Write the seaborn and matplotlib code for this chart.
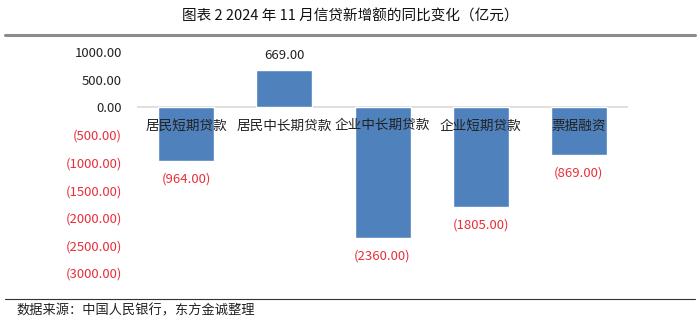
import matplotlib
matplotlib.use("Agg")
import matplotlib.pyplot as plt
import seaborn as sns
import pandas as pd
from matplotlib.lines import Line2D

categories = ["居民短期贷款", "居民中长期贷款", "企业中长期贷款", "企业短期贷款", "票据融资"]
values = [-964.0, 669.0, -2360.0, -1805.0, -869.0]
yticks = [1000, 500, 0, -500, -1000, -1500, -2000, -2500, -3000]

sns.set_theme(style="white")
plt.rcParams['font.family'] = ['Noto Sans CJK SC', 'DejaVu Sans']

RED = "#E8303A"
BLUE = "#4F81BD"

fig = plt.figure(figsize=(7.0, 3.26), dpi=100)
ax = fig.add_axes([0.196, 0.163, 0.701, 0.677])

df = pd.DataFrame({"cat": categories, "val": values})
sns.barplot(data=df, x="cat", y="val", color=BLUE, saturation=1, width=0.57, ax=ax)

ax.set_ylim(-3000, 1000)
ax.set_xlim(-0.5, len(categories) - 0.5)
ax.set_yticks(yticks)
def fmt(v):
    return f"{v:.2f}" if v >= 0 else f"({abs(v):.2f})"
ax.set_yticklabels([fmt(v) for v in yticks], fontsize=9.5)
for lbl, v in zip(ax.get_yticklabels(), yticks):
    lbl.set_color(RED if v < 0 else "#222222")
ax.tick_params(axis='y', length=0, pad=11)
ax.set_xticks([])
ax.set_xlabel("")
ax.set_ylabel("")
for s in ax.spines.values():
    s.set_visible(False)
ax.axhline(0, color="#D9D9D9", lw=1.2, zorder=0)

for i, (c, v) in enumerate(zip(categories, values)):
    ax.text(i, -200, c, ha="center", va="top", fontsize=9.8, color="#222222")
    if v >= 0:
        ax.text(i, v + 150, fmt(v), ha="center", va="bottom", fontsize=9.5, color="#222222")
    else:
        ax.text(i, v - 210, fmt(v), ha="center", va="top", fontsize=9.5, color=RED)

fig.text(0.5, 0.948, "图表 2 2024 年 11 月信贷新增额的同比变化（亿元）", ha="center", va="center",
         fontsize=10.5, color="#111111")
fig.add_artist(Line2D([0.007, 0.993], [0.893, 0.893], transform=fig.transFigure, color="#8C8C8C", lw=2.2))
fig.add_artist(Line2D([0.007, 0.993], [0.083, 0.083], transform=fig.transFigure, color="#333333", lw=0.8))
fig.text(0.024, 0.045, "数据来源：中国人民银行，东方金诚整理", ha="left", va="center", fontsize=9.5, color="#222222")

fig.savefig("out.png", dpi=100)
